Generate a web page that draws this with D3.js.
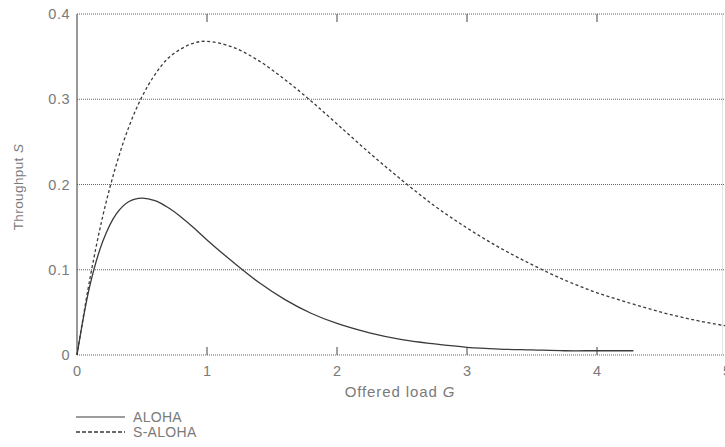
<!DOCTYPE html>
<html>
<head>
<meta charset="utf-8">
<script src="https://cdn.jsdelivr.net/npm/d3@7"></script>
<style>
body { margin: 0; background: #fff; }
text { font-family: "Liberation Sans", Arial, sans-serif; fill: #7a7a7a; }
</style>
</head>
<body>
<div id="chart"></div>
<script>
// values
var G = [0, 0.1, 0.2, 0.3, 0.4, 0.5, 0.6, 0.7, 0.8, 0.9, 1.0, 1.2, 1.4, 1.6, 1.8, 2.0, 2.25, 2.5, 2.75, 3.0, 3.25, 3.5, 3.75, 4.0, 4.28];
var aloha = [0, 0.082, 0.134, 0.165, 0.180, 0.184, 0.181, 0.173, 0.162, 0.149, 0.135, 0.109, 0.085, 0.065, 0.049, 0.037, 0.026, 0.018, 0.013, 0.009, 0.007, 0.006, 0.005, 0.005, 0.005];

var G2 = [0, 0.1, 0.2, 0.3, 0.4, 0.5, 0.6, 0.7, 0.8, 0.9, 1.0, 1.2, 1.4, 1.6, 1.8, 2.0, 2.25, 2.5, 2.75, 3.0, 3.25, 3.5, 3.75, 4.0, 4.25, 4.5, 4.75, 5.0];
var saloha = [0, 0.090, 0.164, 0.222, 0.268, 0.303, 0.329, 0.348, 0.359, 0.366, 0.368, 0.361, 0.345, 0.323, 0.298, 0.271, 0.237, 0.205, 0.175, 0.149, 0.126, 0.106, 0.088, 0.073, 0.061, 0.050, 0.041, 0.034];

var xTicks = [0, 1, 2, 3, 4, 5];
var yTicks = [0, 0.1, 0.2, 0.3, 0.4];
var yTickLabels = ["0", "0.1", "0.2", "0.3", "0.4"];
var seriesNames = ["ALOHA", "S-ALOHA"];

var svg = d3.select("#chart").append("svg")
	.attr("width", 725)
	.attr("height", 447);

var x = d3.scaleLinear().domain([0, 5]).range([77, 727]);
var y = d3.scaleLinear().domain([0, 0.4]).range([355, 14]);

// horizontal dotted grid (also the x axis line)
svg.selectAll("line.grid")
	.data(yTicks)
	.enter().append("line")
	.attr("class", "grid")
	.attr("x1", x(0))
	.attr("x2", 725)
	.attr("y1", function(d){ return y(d); })
	.attr("y2", function(d){ return y(d); })
	.attr("stroke", "#666")
	.attr("stroke-width", 1)
	.attr("stroke-dasharray", "1,1");

// faint right border
svg.append("line")
	.attr("x1", 722.5).attr("x2", 722.5)
	.attr("y1", y(0.4)).attr("y2", y(0))
	.attr("stroke", "#e4e4e4");

// y axis
svg.append("line")
	.attr("x1", x(0)).attr("x2", x(0))
	.attr("y1", y(0.4)).attr("y2", y(0))
	.attr("stroke", "#555")
	.attr("stroke-width", 1.2);

svg.selectAll("text.ylab")
	.data(yTicks)
	.enter().append("text")
	.attr("class", "ylab")
	.attr("x", 70)
	.attr("y", function(d){ return y(d) + 5; })
	.attr("text-anchor", "end")
	.attr("font-size", 14.5)
	.attr("letter-spacing", 0.5)
	.text(function(d, i){ return yTickLabels[i]; });

// ticks on top and bottom
var inner = xTicks.slice(1, 5);
svg.selectAll("line.tb")
	.data(inner)
	.enter().append("line")
	.attr("class", "tb")
	.attr("x1", function(d){ return x(d); })
	.attr("x2", function(d){ return x(d); })
	.attr("y1", y(0) - 8)
	.attr("y2", y(0))
	.attr("stroke", "#444");
svg.selectAll("line.tt")
	.data(inner)
	.enter().append("line")
	.attr("class", "tt")
	.attr("x1", function(d){ return x(d); })
	.attr("x2", function(d){ return x(d); })
	.attr("y1", y(0.4))
	.attr("y2", y(0.4) + 8)
	.attr("stroke", "#444");

svg.selectAll("text.xlab")
	.data(xTicks)
	.enter().append("text")
	.attr("class", "xlab")
	.attr("x", function(d){ return x(d); })
	.attr("y", 376)
	.attr("text-anchor", "middle")
	.attr("font-size", 14.5)
	.text(function(d){ return d; });

// axis titles
var xt = svg.append("text")
	.attr("x", 400)
	.attr("y", 397)
	.attr("text-anchor", "middle")
	.attr("font-size", 15)
	.attr("letter-spacing", 0.9);
xt.append("tspan").text("Offered load ");
xt.append("tspan").attr("font-style", "italic").text("G");

var yt = svg.append("text")
	.attr("transform", "translate(23,187) rotate(-90)")
	.attr("text-anchor", "middle")
	.attr("font-size", 13.5)
	.attr("letter-spacing", 0.4);
yt.append("tspan").text("Throughput ");
yt.append("tspan").attr("font-style", "italic").text("S");

// curves
var line = d3.line()
	.x(function(d){ return x(d[0]); })
	.y(function(d){ return y(d[1]); })
	.curve(d3.curveCatmullRom);

svg.append("path")
	.datum(d3.zip(G, aloha))
	.attr("d", line)
	.attr("fill", "none")
	.attr("stroke", "#3a3a3a")
	.attr("stroke-width", 1.3);

svg.append("path")
	.datum(d3.zip(G2, saloha))
	.attr("d", line)
	.attr("fill", "none")
	.attr("stroke", "#3a3a3a")
	.attr("stroke-width", 1.3)
	.attr("stroke-dasharray", "3,2.5");

// legend
var leg = svg.selectAll("g.leg")
	.data(seriesNames)
	.enter().append("g")
	.attr("class", "leg")
	.attr("transform", function(d, i){ return "translate(0," + (417 + i * 15) + ")"; });
leg.append("line")
	.attr("x1", 76).attr("x2", 125)
	.attr("y1", 0).attr("y2", 0)
	.attr("stroke", "#3a3a3a")
	.attr("stroke-width", function(d, i){ return i ? 1.5 : 1; })
	.attr("stroke-dasharray", function(d, i){ return i ? "4,2" : null; });
leg.append("text")
	.attr("x", 133)
	.attr("y", 5)
	.attr("font-size", 14)
	.attr("letter-spacing", 0.3)
	.text(function(d){ return d; });
</script>
</body>
</html>
